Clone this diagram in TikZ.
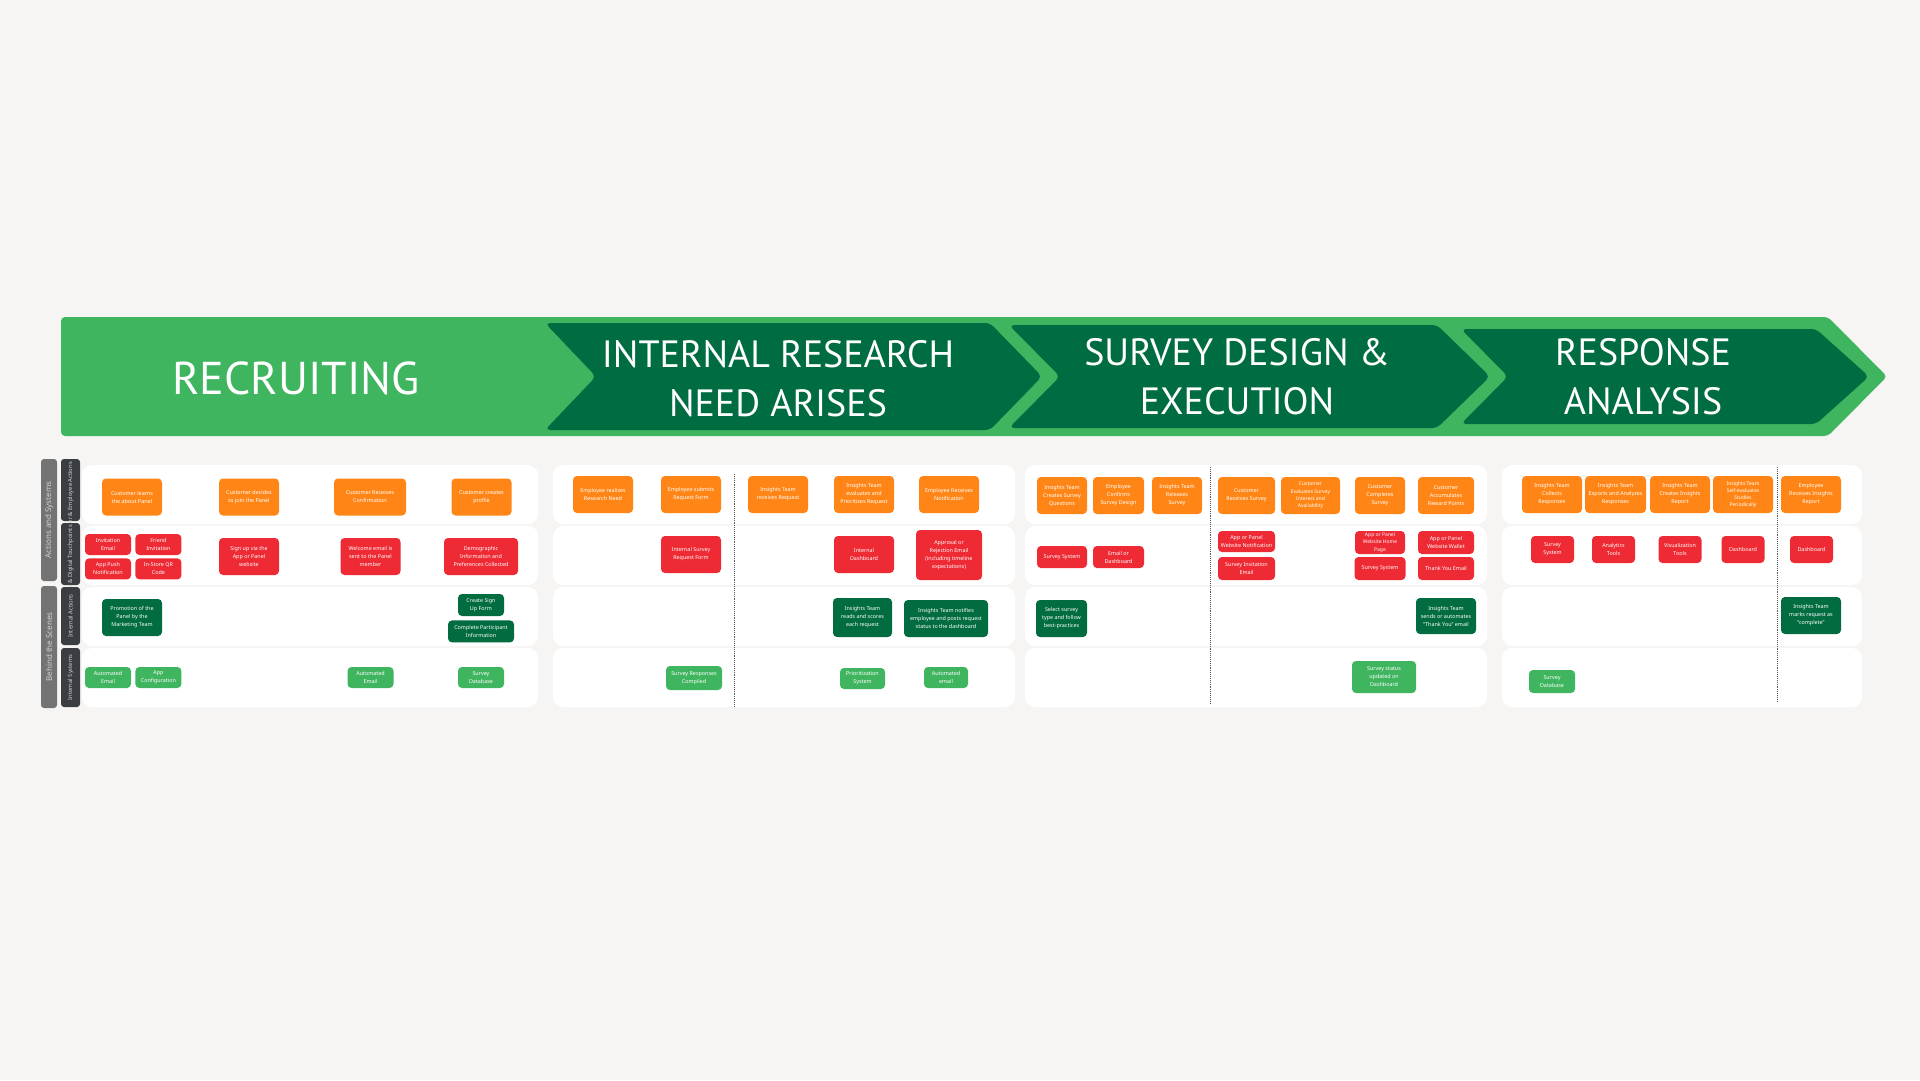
\documentclass[tikz,border=0pt]{standalone}
\usepackage{fontspec}
\setmainfont{Noto Sans}
\newfontfamily\headfont{PT Sans}
\usetikzlibrary{positioning}

\definecolor{pageBg}{RGB}{246,245,243}
\definecolor{hdrLight}{RGB}{64,181,95}
\definecolor{hdrDark}{RGB}{0,108,65}
\definecolor{cardOrange}{RGB}{255,134,22}
\definecolor{cardRed}{RGB}{238,42,52}
\definecolor{cardDark}{RGB}{0,108,64}
\definecolor{cardLight}{RGB}{64,181,95}
\definecolor{tagGray}{RGB}{115,115,115}
\definecolor{tagDark}{RGB}{58,62,66}
\definecolor{tagText}{RGB}{210,210,210}

\begin{document}
\begin{tikzpicture}[x=1pt,y=-1pt,
  hdr/.style={text=white,align=center,font=\headfont\fontsize{38}{49}\selectfont},
  lanebg/.style={fill=white,rounded corners=10pt},
  card/.style={rounded corners=4pt,align=center,text=white,inner sep=0.5pt,
    font=\fontsize{5.4}{8}\selectfont},
  act/.style={card,fill=cardOrange},
  touch/.style={card,fill=cardRed},
  inact/.style={card,fill=cardDark},
  insys/.style={card,fill=cardLight},
  tall/.style={minimum width=60pt,minimum height=37pt},
  tiny/.style={minimum width=46pt,minimum height=21pt},
  dense/.style={font=\fontsize{5}{7.2}\selectfont},
  divider/.style={densely dotted,line width=0.9pt,black!65},
  tagbar/.style={rounded corners=3pt},
  tagtext/.style={rotate=90,text=tagText,inner sep=0pt}]
  \useasboundingbox (0,0) rectangle (1920,1080);
  \fill[pageBg] (0,0) rectangle (1920,1080);

  % phase banner
  \fill[hdrLight,rounded corners=4pt] (61,317) -- (1828,317) -- (1887,376.5)
    -- (1828,436) -- (61,436) -- cycle;
  \fill[hdrDark,rounded corners=5pt] (545,323) -- (990,323) -- (1042,376.5)
    -- (990,430) -- (545,430) -- (596,376.5) -- cycle;
  \fill[hdrDark,rounded corners=5pt] (1009,325) -- (1437,325) -- (1490,376.5)
    -- (1437,428) -- (1009,428) -- (1060,376.5) -- cycle;
  \fill[hdrDark,rounded corners=5pt] (1461,329) -- (1816,329) -- (1869,376.5)
    -- (1816,424) -- (1461,424) -- (1508,376.5) -- cycle;
  \node[hdr,font=\headfont\fontsize{46}{50}\selectfont] (recruit) at (296,378) {RECRUITING};
  \node[hdr] (research) at (778,378.5) {INTERNAL RESEARCH\\NEED ARISES};
  \node[hdr] (design) at (1237,377) {SURVEY DESIGN \&\\EXECUTION};
  \node[hdr] (analysis) at (1643,377) {RESPONSE\\ANALYSIS};

  % swimlane panels
  \foreach \xa/\xb in {82/538,553/1015,1025/1487,1502/1862}
    \foreach \ya/\yb in {465/524,526/585,587/646,648/707}
      \fill[lanebg] (\xa,\ya) rectangle (\xb,\yb);
  \draw[divider] (734,474) -- (734,707);
  \draw[divider] (1210,467) -- (1210,704);
  \draw[divider] (1777,467) -- (1777,702);

  % lane tags
  \fill[tagbar,tagGray] (41,459) rectangle (57,581);
  \node[tagtext,font=\fontsize{8}{9}\selectfont] (actsys) at (49,520) {Actions and Systems};
  \fill[tagbar,tagGray] (41,586) rectangle (57,708);
  \node[tagtext,font=\fontsize{8}{9}\selectfont] (behind) at (49,647) {Behind the Scenes};
  \fill[tagbar,tagDark] (61,459) rectangle (80,521);
  \node[tagtext,anchor=east,font=\fontsize{5.8}{7}\selectfont] (empact) at (70.5,462) {Customer \& Employee Actions};
  \fill[tagbar,tagDark] (61,523) rectangle (80,585);
  \node[tagtext,anchor=east,font=\fontsize{5.8}{7}\selectfont] (digtouch) at (70.5,525) {Customer \& Digital Touchpoints};
  \fill[tagbar,tagDark] (61,587) rectangle (80,645);
  \node[tagtext,font=\fontsize{5.8}{7}\selectfont] (intact) at (70.5,616) {Internal Actions};
  \fill[tagbar,tagDark] (61,648) rectangle (80,707);
  \node[tagtext,font=\fontsize{5.8}{7}\selectfont] (intsys) at (70.5,677.5) {Internal Systems};

  % recruiting
  \node[act,tall] (learns) at (132,497) {Customer learns\\the about Panel};
  \node[act,tall] (decides) at (249,497) {Customer decides\\to join the Panel};
  \node[act,tall,minimum width=72pt] (confirm) at (370,497) {Customer Receives\\Confirmation};
  \node[act,tall] (profile) at (481.5,497) {Customer creates\\profile};
  \node[touch,tiny] (invmail) at (108,544.5) {Invitation\\Email};
  \node[touch,tiny,right=4pt of invmail] (friend) {Friend\\Invitation};
  \node[touch,tiny,below=3pt of invmail] (push) {App Push\\Notification};
  \node[touch,tiny,right=4pt of push] (qrcode) {In-Store QR\\Code};
  \node[touch,tall] (signup) at (249,556.5) {Sign up via the\\App or Panel\\website};
  \node[touch,tall] (welcome) at (370.5,556.5) {Welcome email is\\sent to the Panel\\member};
  \node[touch,tall,minimum width=74pt] (demog) at (481,556.5) {Demographic\\Information and\\Preferences Collected};
  \node[inact,tall] (promo) at (132,617.5) {Promotion of the\\Panel by the\\Marketing Team};
  \node[inact,tiny,minimum height=22pt] (signform) at (481,605) {Create Sign\\Up Form};
  \node[inact,minimum width=66pt,minimum height=22pt,below=4pt of signform] (partinfo) {Complete Participant\\Information};
  \node[insys,tiny] (automail) at (108,677.5) {Automated\\Email};
  \node[insys,tiny,right=4pt of automail] (appconf) {App\\Configuration};
  \node[insys,tiny] (welcomesys) at (370.5,677.5) {Automated\\Email};
  \node[insys,tiny] (surveydb) at (481,677.5) {Survey\\Database};

  % internal research need
  \node[act,tall] (realizes) at (603,494.5) {Employee realizes\\Research Need};
  \node[act,tall] (submits) at (691,494.5) {Employee submits\\Request Form};
  \node[act,tall] (receives) at (778,494.5) {Insights Team\\receives Request};
  \node[act,tall] (evaluates) at (864,494.5) {Insights Team\\evaluates and\\Prioritizes Request};
  \node[act,tall] (notified) at (949,494.5) {Employee Receives\\Notification};
  \node[touch,tall] (reqform) at (691,554.5) {Internal Survey\\Request Form};
  \node[touch,tall] (intdash) at (864,554.5) {Internal\\Dashboard};
  \node[touch,minimum width=66pt,minimum height=50pt] (approval) at (949,555) {Approval or\\Rejection Email\\(including timeline\\expectations)};
  \node[inact,minimum width=59pt,minimum height=39pt] (scores) at (862.5,617.5) {Insights Team\\reads and scores\\each request};
  \node[inact,minimum width=84pt,minimum height=37pt] (notifies) at (946,618.5) {Insights Team notifies\\employee and posts request\\status to the dashboard};
  \node[insys,minimum width=56pt,minimum height=24pt] (compiled) at (694,678) {Survey Responses\\Compiled};
  \node[insys,tiny,minimum width=45pt] (priosys) at (862.5,678.5) {Prioritization\\System};
  \node[insys,tiny,minimum width=44pt] (automail2) at (946,677.5) {Automated\\email};

  % survey design and execution
  \node[act,minimum width=50pt,minimum height=37pt] (questions) at (1062,495.5) {Insights Team\\Creates Survey\\Questions};
  \node[act,minimum width=51pt,minimum height=37pt] (confirms) at (1118.5,495.5) {Employee\\Confirms\\Survey Design};
  \node[act,minimum width=50pt,minimum height=37pt] (releases) at (1177,495.5) {Insights Team\\Releases\\Survey};
  \node[act,minimum width=57pt,minimum height=37pt] (custrec) at (1246.5,495.5) {Customer\\Receives Survey};
  \node[act,dense,minimum width=59pt,minimum height=37pt] (evalint) at (1310.5,495.5) {Customer\\Evaluates Survey\\Interest and\\Availability};
  \node[act,minimum width=50pt,minimum height=37pt] (completes) at (1380,495.5) {Customer\\Completes\\Survey};
  \node[act,minimum width=56pt,minimum height=37pt] (rewards) at (1446,495.5) {Customer\\Accumulates\\Reward Points};
  \node[touch,minimum width=50pt,minimum height=22pt] (survsys) at (1062,557) {Survey System};
  \node[touch,minimum width=51pt,minimum height=22pt] (emaildash) at (1118.5,557) {Email or\\Dashboard};
  \node[touch,minimum width=57pt,minimum height=21pt] (appnotif) at (1246.5,541.5) {App or Panel\\Website Notification};
  \node[touch,minimum width=57pt,minimum height=23pt] (invitemail) at (1246.5,568.5) {Survey Invitation\\Email};
  \node[touch,dense,minimum width=50pt,minimum height=23pt] (homepage) at (1380,542.5) {App or Panel\\Website Home\\Page};
  \node[touch,minimum width=51pt,minimum height=23pt] (survsys2) at (1380,568.5) {Survey System};
  \node[touch,minimum width=56pt,minimum height=23pt] (wallet) at (1446,542.5) {App or Panel\\Website Wallet};
  \node[touch,minimum width=56pt,minimum height=23pt] (thanks) at (1446,568.5) {Thank You Email};
  \node[inact,minimum width=51pt,minimum height=37pt] (select) at (1061.5,618.5) {Select survey\\type and follow\\best-practices};
  \node[inact,minimum width=60pt,minimum height=36pt] (thankmail) at (1446,616) {Insights Team\\sends or automates\\``Thank You'' email};
  \node[insys,minimum width=64pt,minimum height=32pt] (status) at (1384,677) {Survey status\\updated on\\Dashboard};

  % response analysis
  \node[act,tall] (collects) at (1552,494.5) {Insights Team\\Collects\\Responses};
  \node[act,tall,minimum width=61pt] (analyzes) at (1615.5,494.5) {Insights Team\\Exports and Analyzes\\Responses};
  \node[act,tall] (report) at (1680,494.5) {Insights Team\\Creates Insights\\Report};
  \node[act,tall,dense] (selfeval) at (1743,494.5) {Insights Team\\Self-evaluates\\Studies\\Periodically};
  \node[act,tall] (insights) at (1811,494.5) {Employee\\Receives Insights\\Report};
  \node[touch,minimum width=43pt,minimum height=27pt] (survsys3) at (1552.5,549.5) {Survey\\System};
  \node[touch,minimum width=43pt,minimum height=27pt] (analytics) at (1613.5,549.5) {Analytics\\Tools};
  \node[touch,minimum width=43pt,minimum height=27pt] (visual) at (1680,549.5) {Visualization\\Tools};
  \node[touch,minimum width=43pt,minimum height=27pt] (dash1) at (1743,549.5) {Dashboard};
  \node[touch,minimum width=43pt,minimum height=27pt] (dash2) at (1811.5,549.5) {Dashboard};
  \node[inact,tall] (complete) at (1811,615.5) {Insights Team\\marks request as\\``complete''};
  \node[insys,tiny,minimum height=23pt] (surveydb2) at (1552,681.5) {Survey\\Database};
\end{tikzpicture}
\end{document}
